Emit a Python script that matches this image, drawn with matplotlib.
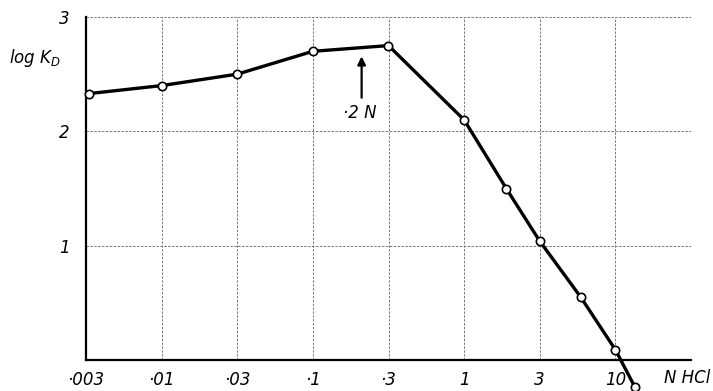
import numpy as np
import matplotlib.pyplot as plt

# concentration HCl (N) et log KD
conc = [0.0033, 0.01, 0.0316, 0.1, 0.316, 1.0, 1.9, 3.16, 5.9, 10.0, 13.5]
log_kd = [2.33, 2.40, 2.50, 2.70, 2.75, 2.10, 1.50, 1.04, 0.55, 0.09, -0.24]

tick_pos = [10 ** (k / 2) for k in range(-5, 4)]
tick_labels = ['\u00b7003', '\u00b701', '\u00b703', '\u00b71', '\u00b73', '1', '3', '10', '']
y_ticks = [0, 1, 2, 3]
y_labels = ['', '1', '2', '3']

plt.rcParams['font.family'] = ['DejaVu Sans']
fig = plt.figure(figsize=(7.13, 3.91), dpi=100)
ax = fig.add_axes([86 / 713, 1 - 360 / 391, 605 / 713, 343 / 391])

ax.plot(conc, log_kd, color='black', lw=2.4, marker='o', ms=6,
        mfc='white', mec='black', mew=1.2, clip_on=False, zorder=5)

ax.set_xscale('log')
ax.set_xlim(10 ** -2.5, 10 ** 1.5)
ax.set_ylim(0, 3)
ax.set_xticks(tick_pos)
ax.set_xticklabels(tick_labels, fontstyle='italic', fontsize=12)
ax.minorticks_off()
ax.set_yticks(y_ticks)
ax.set_yticklabels(y_labels, fontstyle='italic', fontsize=12)
ax.tick_params(axis='x', length=0, pad=8)
ax.tick_params(axis='y', length=0, pad=12)

ax.grid(True, color='#777777', lw=0.7, ls=(0, (2.5, 1.5)))
for s in ['top', 'right']:
    ax.spines[s].set_visible(False)
for s in ['left', 'bottom']:
    ax.spines[s].set_linewidth(1.6)

# fleche 0.2 N
ax.annotate('', xy=(0.21, 2.68), xytext=(0.21, 2.27),
            arrowprops=dict(arrowstyle='-|>', color='black', lw=1.6, mutation_scale=12))
ax.text(0.205, 2.16, '\u00b72 N', fontstyle='italic', fontsize=12, ha='center', va='center')

ax.text(-0.127, 0.88, 'log $K_D$', transform=ax.transAxes, fontstyle='italic',
        fontsize=12, ha='left', va='center')
ax.text(0.993, -0.052, 'N HCl', transform=ax.transAxes, fontstyle='italic',
        fontsize=12, ha='center', va='center')

fig.savefig('out.png', dpi=100)
